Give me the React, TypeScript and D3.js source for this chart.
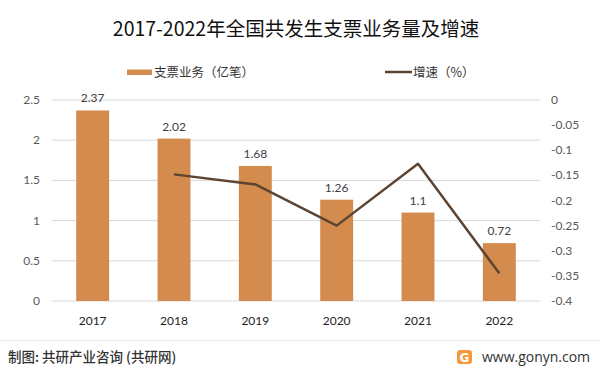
import React from "react";
import * as d3 from "d3";

const years = ["2017", "2018", "2019", "2020", "2021", "2022"];
const volume = [2.37, 2.02, 1.68, 1.26, 1.1, 0.72];
const growthYears = ["2018", "2019", "2020", "2021", "2022"];
const growth = [-0.148, -0.168, -0.25, -0.127, -0.345];
const leftTicks = [0, 0.5, 1, 1.5, 2, 2.5];
const rightTicks = [0, -0.05, -0.1, -0.15, -0.2, -0.25, -0.3, -0.35, -0.4];

const W = 600;
const H = 371;
const BAR = "#D48C4E";
const LINE = "#5E4430";
const NUM_FONT = "Lato, 'Noto Sans', sans-serif";
const CJK = "'Noto Sans CJK SC', sans-serif";

export default function App() {
  const x = d3.scaleBand<string>().domain(years).range([52, 540]).paddingInner(0.595).paddingOuter(0.2975);
  const yL = d3.scaleLinear().domain([0, 2.5]).range([301, 100]);
  const yR = d3.scaleLinear().domain([-0.4, 0]).range([301, 100]);
  const cx = (d: string) => (x(d) as number) + x.bandwidth() / 2;
  const line = d3
    .line<number>()
    .x((_, i) => cx(growthYears[i]))
    .y((d) => yR(d));

  return (
    <svg width={W} height={H} style={{ position: "absolute", left: 0, top: 0, background: "#fff" }}>
      <rect x={0} y={0} width={W} height={H} fill="#fff" />
      <text x={296} y={36} textAnchor="middle" fontFamily={CJK} fontSize={19.5} fill="#111">
        2017-2022年全国共发生支票业务量及增速
      </text>
      {/* legend */}
      <rect x={127} y={69.5} width={25} height={5.5} fill={BAR} />
      <text x={154} y={76.5} fontFamily={CJK} fontSize={12.5} fill="#333">支票业务（亿笔）</text>
      <line x1={385} x2={412} y1={72} y2={72} stroke={LINE} strokeWidth={2.5} />
      <text x={413} y={76.5} fontFamily={CJK} fontSize={12.5} fill="#333">增速（%）</text>

      {/* grid */}
      {leftTicks.map((t) => (
        <line key={"g" + t} x1={52} x2={540} y1={yL(t)} y2={yL(t)} stroke="#D9D9D9" strokeWidth={1} />
      ))}
      {leftTicks.map((t) => (
        <text key={"l" + t} x={40} y={yL(t) + 4} textAnchor="end" fontFamily={NUM_FONT} fontSize={12} fill="#595959">
          {String(t)}
        </text>
      ))}
      {rightTicks.map((t) => (
        <text key={"r" + t} x={551} y={yR(t) + 4} textAnchor="start" fontFamily={NUM_FONT} fontSize={12} fill="#595959">
          {t === 0 ? "0" : String(t)}
        </text>
      ))}

      {/* bars */}
      {years.map((yr, i) => (
        <rect key={"b" + yr} x={x(yr)} y={yL(volume[i])} width={x.bandwidth()} height={301 - yL(volume[i])} fill={BAR} />
      ))}
      {years.map((yr, i) => (
        <text key={"v" + yr} x={cx(yr)} y={yL(volume[i]) - 8} textAnchor="middle" fontFamily={NUM_FONT} fontSize={12} fill="#404040">
          {String(volume[i])}
        </text>
      ))}
      {years.map((yr) => (
        <text key={"x" + yr} x={cx(yr)} y={325} textAnchor="middle" fontFamily={NUM_FONT} fontSize={12} fill="#222">
          {yr}
        </text>
      ))}

      <path d={line(growth) || ""} fill="none" stroke={LINE} strokeWidth={2.5} strokeLinejoin="round" />

      {/* footer */}
      <line x1={0} x2={600} y1={340.5} y2={340.5} stroke="#EBEBEB" strokeWidth={1} />
      <text x={8} y={362} fontFamily={CJK} fontSize={13.5} fontWeight={500} fill="#333">
        制图: 共研产业咨询 (共研网)
      </text>
      <g transform="translate(457,350)">
        <rect x={0} y={0} width={15} height={14} rx={3} fill="#F39A3C" />
        <text x={7.5} y={11.5} textAnchor="middle" fontFamily="'DejaVu Sans', sans-serif" fontWeight="bold" fontSize={12} fill="#fff">G</text>
      </g>
      <text x={482} y={362} fontFamily="'Open Sans', sans-serif" fontSize={14} fill="#333" textLength={108}>
        www.gonyn.com
      </text>
    </svg>
  );
}
